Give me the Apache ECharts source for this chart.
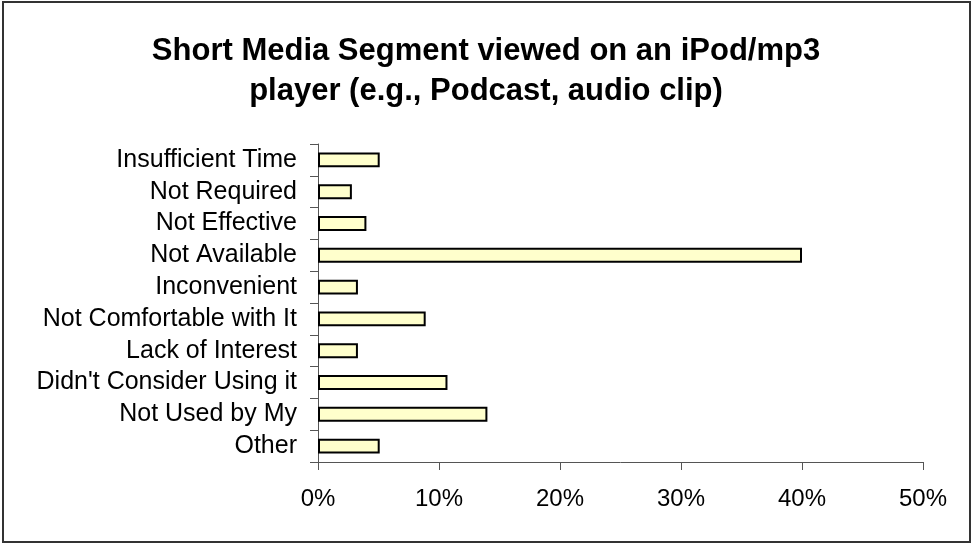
<!DOCTYPE html>
<html>
<head>
<meta charset="utf-8">
<script src="https://cdn.jsdelivr.net/npm/echarts@6/dist/echarts.min.js"></script>
<style>
html,body{margin:0;padding:0;background:#fff;}
#chart{width:972px;height:544px;}
</style>
</head>
<body>
<div id="chart"></div>
<script>
var titleText = 'Short Media Segment viewed on an iPod/mp3\nplayer (e.g., Podcast, audio clip)';
var categories = ['Insufficient Time','Not Required','Not Effective','Not Available','Inconvenient','Not Comfortable with It','Lack of Interest',"Didn't Consider Using it",'Not Used by My','Other'];
var values = [5.1, 2.8, 4.0, 40.0, 3.3, 8.9, 3.3, 10.7, 14.0, 5.1];
var xTicks = [0, 10, 20, 30, 40, 50];

var chart = echarts.init(document.getElementById('chart'), null, {renderer:'canvas'});
var font = '"Liberation Sans", Arial, sans-serif';
chart.setOption({
  animation:false,
  backgroundColor:'#fff',
  title:{
    text:titleText,
    left:'center',
    top:26,
    textStyle:{fontFamily:font,fontSize:31,fontWeight:'bold',color:'#000',lineHeight:40}
  },
  graphic:[{
    type:'rect',
    shape:{x:3,y:2,width:967,height:540},
    style:{fill:'none',stroke:'#333',lineWidth:2},
    silent:true
  }],
  grid:{left:318,right:49,top:144,bottom:82,containLabel:false},
  xAxis:{
    type:'value',
    min:xTicks[0],
    max:xTicks[xTicks.length-1],
    interval:10,
    splitLine:{show:false},
    axisLine:{show:true,lineStyle:{color:'#555',width:1}},
    axisTick:{show:true,length:8,lineStyle:{color:'#555'}},
    axisLabel:{formatter:'{value}%',fontFamily:font,fontSize:24,color:'#000',margin:25}
  },
  yAxis:{
    type:'category',
    data:categories,
    inverse:true,
    axisLine:{show:true,lineStyle:{color:'#555',width:1}},
    axisTick:{show:true,length:8,interval:0,alignWithLabel:false,lineStyle:{color:'#555'}},
    axisLabel:{interval:0,hideOverlap:false,fontFamily:font,fontSize:25,color:'#000',margin:21}
  },
  series:[{
    type:'bar',
    data:values,
    barWidth:'47%',
    itemStyle:{color:'#FFFFCC',borderColor:'#000',borderWidth:2}
  }]
});
</script>
</body>
</html>
